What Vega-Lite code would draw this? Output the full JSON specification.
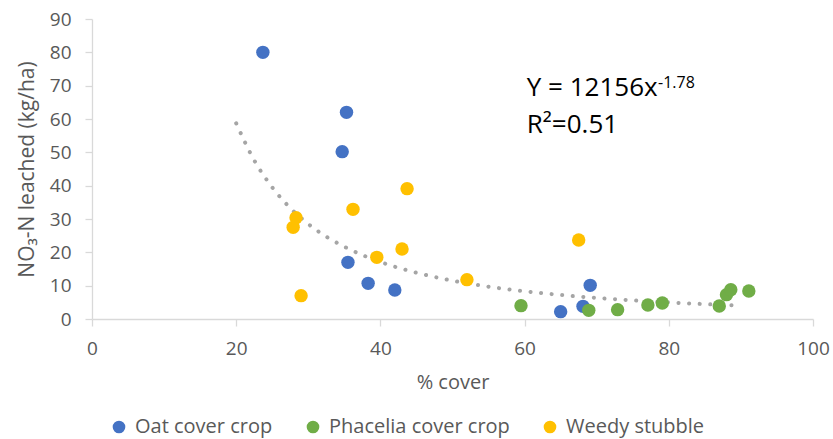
{
  "$schema": "https://vega.github.io/schema/vega-lite/v6.json",
  "width": 721,
  "height": 300,
  "autosize": "none",
  "padding": {"left": 92, "top": 19, "right": 20, "bottom": 120},
  "background": "white",
  "config": {
    "view": {"stroke": null},
    "font": "Open Sans"
  },
  "datasets": {
    "points": [
      {"cover": 23.7, "no3": 80.0, "group": "Oat cover crop"},
      {"cover": 35.3, "no3": 62.0, "group": "Oat cover crop"},
      {"cover": 34.7, "no3": 50.2, "group": "Oat cover crop"},
      {"cover": 35.5, "no3": 17.0, "group": "Oat cover crop"},
      {"cover": 38.3, "no3": 10.7, "group": "Oat cover crop"},
      {"cover": 42.0, "no3": 8.7, "group": "Oat cover crop"},
      {"cover": 65.0, "no3": 2.2, "group": "Oat cover crop"},
      {"cover": 68.1, "no3": 3.8, "group": "Oat cover crop"},
      {"cover": 69.1, "no3": 10.1, "group": "Oat cover crop"},
      {"cover": 59.5, "no3": 4.0, "group": "Phacelia cover crop"},
      {"cover": 68.9, "no3": 2.6, "group": "Phacelia cover crop"},
      {"cover": 72.9, "no3": 2.8, "group": "Phacelia cover crop"},
      {"cover": 77.1, "no3": 4.2, "group": "Phacelia cover crop"},
      {"cover": 79.1, "no3": 4.8, "group": "Phacelia cover crop"},
      {"cover": 87.0, "no3": 3.9, "group": "Phacelia cover crop"},
      {"cover": 88.0, "no3": 7.3, "group": "Phacelia cover crop"},
      {"cover": 88.6, "no3": 8.8, "group": "Phacelia cover crop"},
      {"cover": 91.1, "no3": 8.4, "group": "Phacelia cover crop"},
      {"cover": 28.3, "no3": 30.4, "group": "Weedy stubble"},
      {"cover": 27.9, "no3": 27.5, "group": "Weedy stubble"},
      {"cover": 29.0, "no3": 7.0, "group": "Weedy stubble"},
      {"cover": 36.2, "no3": 32.9, "group": "Weedy stubble"},
      {"cover": 39.5, "no3": 18.5, "group": "Weedy stubble"},
      {"cover": 43.0, "no3": 21.0, "group": "Weedy stubble"},
      {"cover": 43.7, "no3": 39.1, "group": "Weedy stubble"},
      {"cover": 52.0, "no3": 11.8, "group": "Weedy stubble"},
      {"cover": 67.5, "no3": 23.7, "group": "Weedy stubble"}
    ],
    "trend": [
      {"cover": 20, "no3": 58.7},
      {"cover": 22.5, "no3": 47.6},
      {"cover": 25, "no3": 39.5},
      {"cover": 27.5, "no3": 33.3},
      {"cover": 30, "no3": 28.5},
      {"cover": 32.5, "no3": 24.7},
      {"cover": 35, "no3": 21.7},
      {"cover": 37.5, "no3": 19.2},
      {"cover": 40, "no3": 17.1},
      {"cover": 45, "no3": 13.9},
      {"cover": 50, "no3": 11.5},
      {"cover": 55, "no3": 9.7},
      {"cover": 60, "no3": 8.31},
      {"cover": 65, "no3": 7.21},
      {"cover": 70, "no3": 6.32},
      {"cover": 75, "no3": 5.59},
      {"cover": 80, "no3": 4.98},
      {"cover": 85, "no3": 4.47},
      {"cover": 90, "no3": 4.04}
    ],
    "labels": [
      {"cover": 60.3, "no3": 66.8, "txt": "Y = 12156x", "kind": "main"},
      {"cover": 60.3, "no3": 55.8, "txt": "R²=0.51", "kind": "main"},
      {"cover": 78.5, "no3": 69.3, "txt": "-1.78", "kind": "sup"}
    ]
  },
  "encoding": {
    "x": {
      "field": "cover", "type": "quantitative",
      "scale": {"domain": [0, 100], "nice": false},
      "axis": {
        "title": "% cover", "values": [0, 20, 40, 60, 80, 100],
        "grid": false, "domainColor": "#D9D9D9", "tickColor": "#D9D9D9",
        "tickSize": 7, "domainWidth": 1.3, "tickWidth": 1.3, "labelOverlap": false, "labelFlush": false,
        "labelFontSize": 19, "labelColor": "#595959", "labelPadding": 13,
        "titleFontSize": 20, "titleColor": "#595959", "titleFontWeight": "normal", "titlePadding": 14
      }
    },
    "y": {
      "field": "no3", "type": "quantitative",
      "scale": {"domain": [0, 90], "nice": false},
      "axis": {
        "title": "NO₃-N leached (kg/ha)", "values": [0, 10, 20, 30, 40, 50, 60, 70, 80, 90],
        "grid": false, "domainColor": "#D9D9D9", "tickColor": "#D9D9D9",
        "tickSize": 7, "domainWidth": 1.3, "tickWidth": 1.3, "labelOverlap": false, "labelFlush": false,
        "labelFontSize": 19, "labelColor": "#595959", "labelPadding": 14,
        "titleFontSize": 21, "titleColor": "#595959", "titleFontWeight": "normal", "titlePadding": 12
      }
    }
  },
  "layer": [
    {
      "data": {"name": "trend"},
      "mark": {"type": "line", "color": "#A5A5A5", "strokeWidth": 4, "strokeCap": "round", "strokeDash": [0.1, 10.5], "interpolate": "monotone"}
    },
    {
      "data": {"name": "points"},
      "mark": {"type": "circle", "size": 180, "opacity": 1},
      "encoding": {
        "color": {
          "field": "group", "type": "nominal",
          "scale": {"domain": ["Oat cover crop", "Phacelia cover crop", "Weedy stubble"], "range": ["#4472C4", "#70AD47", "#FFC000"]},
          "legend": {
            "title": null, "orient": "none", "direction": "horizontal",
            "legendX": 17, "legendY": 398,
            "symbolType": "circle", "symbolSize": 160, "symbolOpacity": 1,
            "labelFontSize": 20, "labelColor": "#595959", "labelOffset": 6, "columnPadding": 30, "labelLimit": 400
          }
        }
      }
    },
    {
      "data": {"name": "labels"},
      "transform": [{"filter": "datum.kind === 'main'"}],
      "mark": {"type": "text", "align": "left", "baseline": "alphabetic", "fontSize": 26, "color": "#000000"},
      "encoding": {
        "text": {"field": "txt"}
      }
    },
    {
      "data": {"name": "labels"},
      "transform": [{"filter": "datum.kind === 'sup'"}],
      "mark": {"type": "text", "align": "left", "baseline": "alphabetic", "fontSize": 16, "color": "#000000"},
      "encoding": {
        "text": {"field": "txt"}
      }
    }
  ]
}
